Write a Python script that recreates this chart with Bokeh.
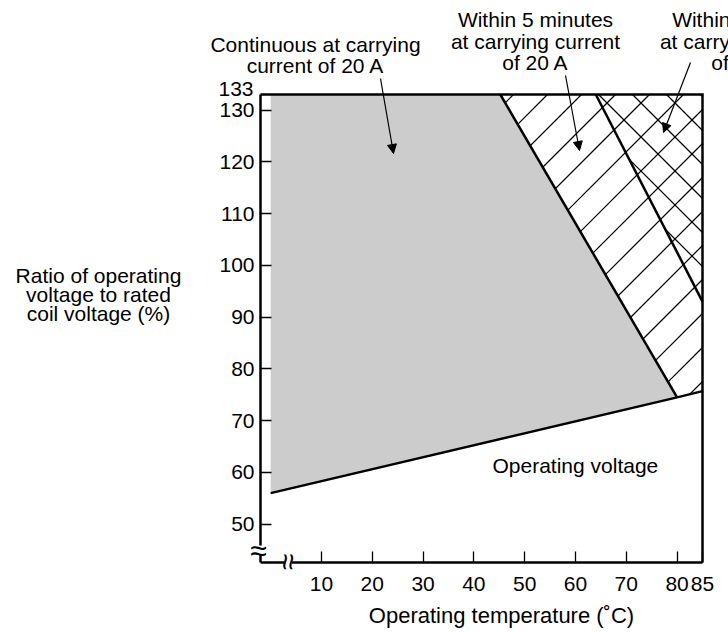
import math
from bokeh.plotting import figure
from bokeh.models import Range1d, FixedTicker, Label, Arrow, NormalHead
from bokeh.embed import file_html
from bokeh.resources import INLINE

FONT = "Liberation Sans"

# ---- data ----
x_ticks = [10, 20, 30, 40, 50, 60, 70, 80, 85]
y_ticks = [50, 60, 70, 80, 90, 100, 110, 120, 130]
y_top_tick = 133

op_temp = [0, 80, 85]          # operating voltage line
op_volt = [56, 74.5, 75.7]
cont_temp = [45.2, 80]         # limit: continuous at 20 A
cont_volt = [133, 74.5]
five_temp = [64, 85]           # limit: within 5 minutes at 20 A
five_volt = [133, 93]

X0, X1 = -2, 85                # box extent (temperature)
Y0, Y1 = 42.6, 133             # box extent (voltage ratio)

title_y_lines = ["Ratio of operating", "voltage to rated", "coil voltage (%)"]
title_x = "Operating temperature (\u02daC)"
note_cont = ["Continuous at carrying", "current of 20 A"]
note_five = ["Within 5 minutes", "at carrying current", "of 20 A"]
note_one = ["Within 1 minute", "at carrying current", "of 30 A"]
note_op = "Operating voltage"

# ---- layout: the frame fills the canvas, the box sits inside it ----
W, H = 728, 633
BOX_L, BOX_R, BOX_T, BOX_B = 260, 702, 94, 562
sx = (BOX_R - BOX_L) / (X1 - X0)
sy = (BOX_B - BOX_T) / (Y1 - Y0)
x_start = X0 - BOX_L / sx
x_end = x_start + W / sx
y_end = Y1 + BOX_T / sy
y_start = y_end - H / sy


def dx(px):
    return x_start + px / sx


def dy(py):
    return y_end - py / sy


def to_px(x, y):
    return (x - x_start) * sx, (y_end - y) * sy


p = figure(width=W, height=H, x_range=Range1d(x_start, x_end), y_range=Range1d(y_start, y_end),
           output_backend="svg", toolbar_location=None,
           min_border=0, min_border_left=0, min_border_right=0, min_border_top=0, min_border_bottom=0)
p.grid.visible = False
p.outline_line_color = None
p.background_fill_color = "white"
p.border_fill_color = "white"

for ax in (p.xaxis[0], p.yaxis[0]):
    ax.axis_line_width = 2.5
    ax.axis_line_color = "black"
    ax.major_tick_in = 11
    ax.major_tick_out = 0
    ax.major_tick_line_width = 1.3
    ax.major_tick_line_color = "black"
    ax.minor_tick_line_color = None
    ax.major_label_text_font = FONT
    ax.major_label_text_font_size = "21px"
    ax.major_label_text_color = "black"
p.xaxis[0].ticker = FixedTicker(ticks=x_ticks)
p.yaxis[0].ticker = FixedTicker(ticks=y_ticks)
p.xaxis[0].fixed_location = Y0
p.yaxis[0].fixed_location = X0
p.xaxis[0].bounds = (X0, X1)
p.yaxis[0].bounds = (Y0, Y1)
p.xaxis[0].major_label_standoff = 14
p.yaxis[0].major_label_standoff = 6


# ---- 45-degree hatch lines, clipped to a convex region ----
def hatch(poly_x, poly_y, d, phase, spacing=34):
    pts = [to_px(x, y) for x, y in zip(poly_x, poly_y)]
    vals = [X + d * Y for X, Y in pts]
    k = math.ceil((min(vals) - phase) / spacing)
    x0s, y0s, x1s, y1s = [], [], [], []
    n = len(pts)
    while phase + k * spacing <= max(vals):
        c = phase + k * spacing
        hits = []
        for i in range(n):
            (ax_, ay_), (bx_, by_) = pts[i], pts[(i + 1) % n]
            fa, fb = ax_ + d * ay_ - c, bx_ + d * by_ - c
            if fa == fb:
                continue
            t = fa / (fa - fb)
            if 0 <= t <= 1:
                hits.append((ax_ + t * (bx_ - ax_), ay_ + t * (by_ - ay_)))
        if len(hits) >= 2:
            hits.sort()
            (ax_, ay_), (bx_, by_) = hits[0], hits[-1]
            if abs(bx_ - ax_) > 0.5:
                x0s.append(dx(ax_)); y0s.append(dy(ay_))
                x1s.append(dx(bx_)); y1s.append(dy(by_))
        k += 1
    p.segment(x0=x0s, y0=y0s, x1=x1s, y1=y1s, line_color="black", line_width=1.2)


# ---- regions ----
gray_x = [op_temp[0], cont_temp[0], cont_temp[1], op_temp[0]]
gray_y = [cont_volt[0], cont_volt[0], cont_volt[1], op_volt[0]]
p.patch(gray_x, gray_y, fill_color="#cccccc", line_color=None)

r2_x = [cont_temp[0], op_temp[-1], op_temp[-1], cont_temp[1]]
r2_y = [cont_volt[0], cont_volt[0], op_volt[-1], cont_volt[1]]
hatch(r2_x, r2_y, d=1, phase=607)      # "/" lines

r3_x = [five_temp[0], five_temp[1], five_temp[1]]
r3_y = [five_volt[0], five_volt[0], five_volt[1]]
hatch(r3_x, r3_y, d=-1, phase=504)     # "\" lines

p.line(op_temp, op_volt, line_color="black", line_width=2.5)
p.line(cont_temp, cont_volt, line_color="black", line_width=2.5)
p.line(five_temp, five_volt, line_color="black", line_width=2.5)

# top and right sides of the box
p.line([X0, X1, X1], [Y1, Y1, Y0], line_color="black", line_width=2.5, line_join="miter")


# ---- texts (Y is the visual centre of the text line) ----
def lab(text, X, Y, align="center", size="21px", angle=0.0, baseline="alphabetic", shift=1):
    p.add_layout(Label(x=dx(X), y=dy(Y - shift), text=text, text_align=align, text_baseline=baseline,
                       text_font=FONT, text_font_size=size, text_color="black", angle=angle))


p.add_layout(Label(x=X0, y=y_top_tick, x_offset=-7, y_offset=6, text=str(y_top_tick),
                   text_align="right", text_baseline="alphabetic",
                   text_font=FONT, text_font_size="21px", text_color="black"))

for t, yc in zip(title_y_lines, [276, 295, 314]):
    lab(t, 98, yc, size="21px")
lab(title_x, 501, 616, size="22px")
for t, yc in zip(note_cont, [45, 66]):
    lab(t, 315, yc)
for t, yc in zip(note_five, [20, 42, 63]):
    lab(t, 535, yc)
for t, yc in zip(note_one, [20, 42, 63]):
    lab(t, 744, yc)
lab(note_op, 492, 466, align="left")

# ---- arrows ----
for (x0, y0, x1, y1) in [(380, 78, 393, 153), (565, 75, 579, 150), (690, 62, 663, 132)]:
    p.add_layout(Arrow(x_start=dx(x0), y_start=dy(y0), x_end=dx(x1), y_end=dy(y1),
                       line_width=1.2, line_color="black",
                       end=NormalHead(size=9, fill_color="black", line_color="black", line_width=1)))

# ---- axis break marks ----
p.add_layout(Arrow(x_start=X0, y_start=dy(545), x_end=X0, y_end=dy(553.5),
                   line_color="white", line_width=6, end=None))
p.add_layout(Arrow(x_start=dx(283.5), y_start=Y0, x_end=dx(291.5), y_end=Y0,
                   line_color="white", line_width=6, end=None))
lab("\u2248", 258, 549.5, baseline="middle", size="30px", shift=0)
lab("\u2248", 287, 561.5, baseline="middle", size="30px", angle=math.pi / 2, shift=0)

open("out.html", "w").write(file_html(p, INLINE))
